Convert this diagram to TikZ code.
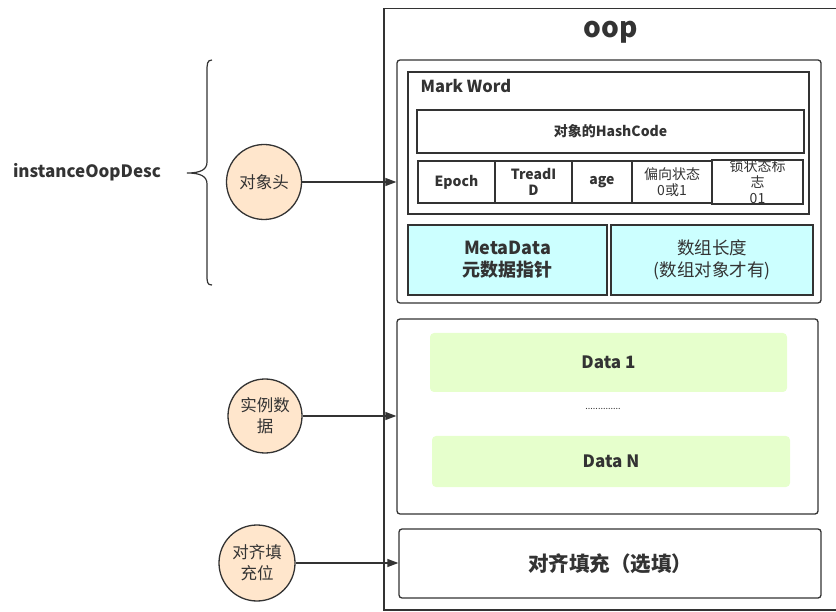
\documentclass[tikz,border=0pt]{standalone}
\usepackage{fontspec}
\setmainfont{Noto Sans CJK SC}
\usetikzlibrary{arrows.meta}
\definecolor{ink}{HTML}{333333}
\definecolor{peach}{HTML}{FFE6CC}
\definecolor{cyanfill}{HTML}{CCFFFF}
\definecolor{greenfill}{HTML}{E6FFCC}
\tikzset{
  box/.style={draw=ink, line width=1.3pt, rectangle, inner sep=0pt, text=ink},
  rbox/.style={box, rounded corners=3pt},
  cell/.style={box, align=center, font=\bfseries\fontsize{14}{16}\selectfont},
  datablock/.style={rectangle, rounded corners=4pt, fill=greenfill, inner sep=0pt, text=ink, font=\bfseries\fontsize{17}{20}\selectfont},
  part/.style={circle, draw=ink, line width=1.3pt, fill=peach, inner sep=0pt, text=ink, align=center, font=\fontsize{16.5}{21}\selectfont},
  link/.style={draw=ink, line width=1.3pt, -{Triangle[length=11pt,width=8pt]}},
}
\begin{document}
\begin{tikzpicture}[x=1pt,y=-1pt]
\useasboundingbox (0,0) rectangle (836,612);
% outer oop frame
\node[box, line width=1.5pt, minimum width=466pt, minimum height=601.5pt] (oop) at (617,309.25) {};
\node[text=ink, font=\bfseries\fontsize{28}{30}\selectfont] (title) at (611,32) {oop};
% object header
\node[rbox, minimum width=424pt, minimum height=243pt] (head) at (609,181.5) {};
\node[box, minimum width=401pt, minimum height=142pt] (mark) at (608.5,143) {};
\node[text=ink, anchor=west, font=\bfseries\fontsize{16.5}{18}\selectfont] (marklbl) at (417,86) {Mark Word};
\node[box, minimum width=387pt, minimum height=43pt, font=\bfseries\fontsize{14}{16}\selectfont] (hash) at (610.5,131.5) {对象的HashCode};
\node[cell, minimum width=77pt, minimum height=42pt] (epoch) at (456.5,182) {Epoch};
\node[cell, minimum width=77pt, minimum height=42pt] (tid) at (533.5,182) {TreadI\\D};
\node[cell, minimum width=60pt, minimum height=42pt] (age) at (602,182) {age};
\node[cell, minimum width=80pt, minimum height=42pt, font=\fontsize{14}{16}\selectfont] (bias) at (672,182) {偏向状态\\0或1};
\node[cell, minimum width=91pt, minimum height=42pt, font=\fontsize{14}{16}\selectfont] (lock) at (757.5,182) {锁状态标\\志\\01};
\node[box, fill=cyanfill, minimum width=199pt, minimum height=70pt, align=center, font=\bfseries\fontsize{18}{22}\selectfont] (meta) at (507.5,260) {MetaData\\元数据指针};
\node[box, fill=cyanfill, minimum width=202pt, minimum height=70pt, align=center, font=\fontsize{17.5}{22}\selectfont] (len) at (712,260) {数组长度\\(数组对象才有)};
% instance data
\node[rbox, minimum width=421pt, minimum height=195pt] (inst) at (607.5,416.5) {};
\node[datablock, minimum width=357pt, minimum height=59pt] (d1) at (608.5,362.5) {Data 1};
\node[text=ink, font=\fontsize{9}{10}\selectfont] (dots) at (603,409) {..............};
\node[datablock, minimum width=358pt, minimum height=51pt] (dn) at (611,461.5) {Data N};
% alignment padding
\node[rbox, minimum width=422pt, minimum height=69pt, font=\bfseries\fontsize{20.5}{22}\selectfont] (pad) at (610,563.5) {对齐填充（选填）};
% part labels
\node[part, minimum size=75pt] (c1) at (264,182) {对象头};
\node[part, minimum size=74pt] (c2) at (265,416) {实例数\\据};
\node[part, minimum size=76pt] (c3) at (257,563) {对齐填\\充位};
\draw[link] (c1) -- (c1 -| head.west);
\draw[link] (c2) -- (c2 -| inst.west);
\draw[link] (c3) -- (c3 -| pad.west);
% brace and class name
\node[text=ink, font=\bfseries\fontsize{17}{18}\selectfont] (desc) at (87,172) {instanceOopDesc};
\coordinate (btop) at (212,60);
\coordinate (btip) at (187,173);
\coordinate (bbot) at (212,285);
\draw[ink, line width=1.2pt] (btop) .. controls (207,60) and (207,64) .. (207,72) -- (207,162)
  .. controls (207,170) and (200,173) .. (btip)
  .. controls (200,173) and (207,176) .. (207,184) -- (207,274)
  .. controls (207,282) and (207,285) .. (bbot);
\end{tikzpicture}
\end{document}
